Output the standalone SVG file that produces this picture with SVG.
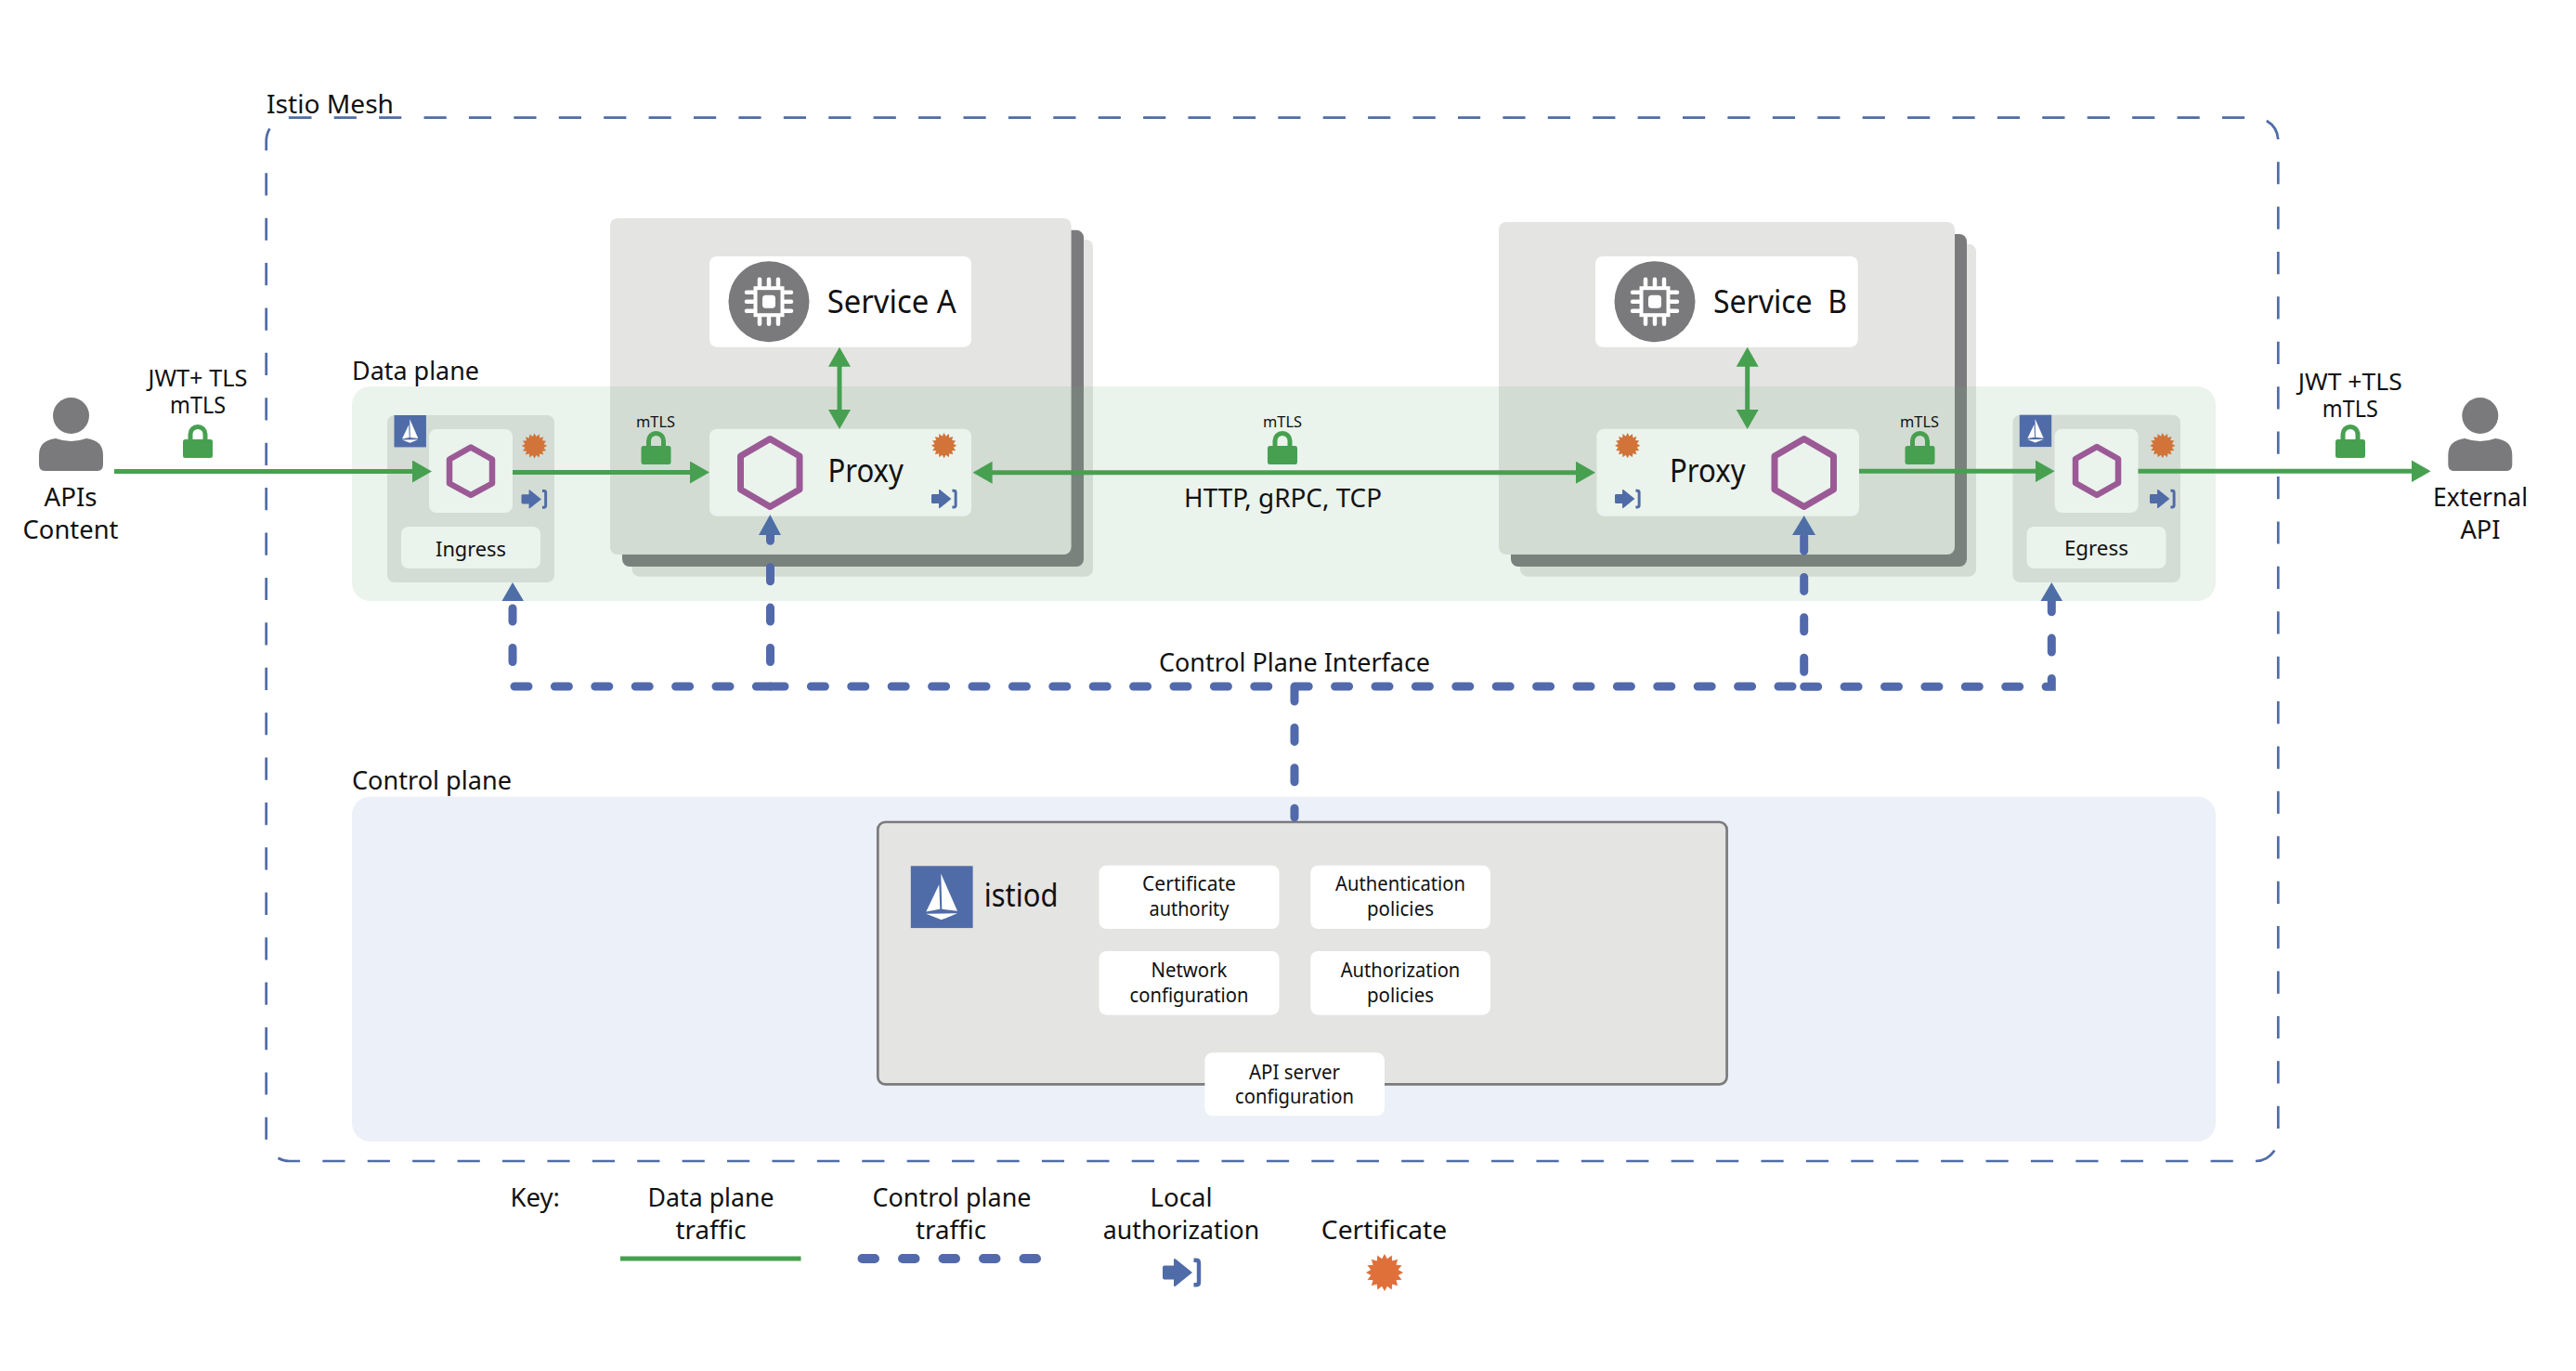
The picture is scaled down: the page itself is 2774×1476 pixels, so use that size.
<svg xmlns="http://www.w3.org/2000/svg" xmlns:xlink="http://www.w3.org/1999/xlink" width="2774" height="1476" viewBox="0 0 2774 1476">
<style>
text{font-family:"Noto Sans","Open Sans","DejaVu Sans",sans-serif;fill:#111;text-anchor:middle}
.s16{font-size:16px}.s22{font-size:22.5px}.s24{font-size:25px}.s27{font-size:28px}.s33{font-size:35px}
.l{text-anchor:start}
.card{fill:#e4e4e2}.shadow{fill:#7b7b7d}
.white{fill:#fff}.soft{fill:#eaf3ec}.gate{fill:#d3dcd5}
.hex{fill:none;stroke:#9b5a96;stroke-linejoin:round}
.g{fill:none;stroke:#47a050;stroke-width:5}
.b{fill:none;stroke:#526aab;stroke-width:9;stroke-linecap:round;stroke-dasharray:15 28.4}
.bh{fill:#4d6fa6}
</style>
<defs>
<marker id="gh" markerUnits="userSpaceOnUse" markerWidth="21" markerHeight="24" viewBox="0 0 21 24" refX="5" refY="12" orient="auto-start-reverse"><path d="M0,0L21,12L0,24Z" fill="#47a050"/></marker>
<polygon id="cert" points="20,0 14.7,2.9 18.5,7.65 12.5,8.3 14.14,14.14 8.3,12.5 7.65,18.5 2.9,14.7 0,20 -2.9,14.7 -7.65,18.5 -8.3,12.5 -14.14,14.14 -12.5,8.3 -18.5,7.65 -14.7,2.9 -20,0 -14.7,-2.9 -18.5,-7.65 -12.5,-8.3 -14.14,-14.14 -8.3,-12.5 -7.65,-18.5 -2.9,-14.7 0,-20 2.9,-14.7 7.65,-18.5 8.3,-12.5 14.14,-14.14 12.5,-8.3 18.5,-7.65 14.7,-2.9"/>
<g id="auth"><path d="M0,10Q0,8 2,8H12V2Q12,-0.5 14,1L32,15.5L14,30Q12,31.5 12,29V23H2Q0,23 0,21Z" fill="#4f6ca8"/><path d="M33.5,2.2H36Q39,2.2 39,5.2V25.8Q39,28.8 36,28.8H33.5" fill="none" stroke="#4f6ca8" stroke-width="4.4"/></g>
<g id="lock"><rect x="0" y="16" width="32" height="20" rx="2.5" fill="#47a050"/><path d="M8,18V10.5A8,8 0 0 1 24,10.5V18" fill="none" stroke="#47a050" stroke-width="5"/></g>
<g id="person" fill="#7a7a7c"><circle cx="34.5" cy="19.5" r="19.5"/><path d="M6,79Q0,79 0,72V62Q0,46 18,44Q34.5,50 51,44Q69,46 69,62V72Q69,79 63,79Z"/></g>
<g id="sail"><rect width="66.8" height="66.8" fill="#4f6ca8"/><path d="M32.5,8.3L50.2,48.5L33.5,46.5Z" fill="#fff"/><path d="M30.5,20L31.5,46.5L16.5,49.3Z" fill="#fff"/><path d="M16.5,51.5L50.2,51L33,58Z" fill="#fff"/></g>
<g id="chip"><circle r="43.5" fill="#7a7a7c"/><rect x="-14.5" y="-14.5" width="29" height="29" fill="none" stroke="#fff" stroke-width="4"/><rect x="-7" y="-7" width="14" height="14" rx="3.5" fill="#fff"/><path d="M-10,-24V-17M0,-24V-17M10,-24V-17M-10,17V24M0,17V24M10,17V24M-24,-10H-17M-24,0H-17M-24,10H-17M17,-10H24M17,0H24M17,10H24" fill="none" stroke="#fff" stroke-width="4.5" stroke-linecap="round"/></g>
</defs>
<rect width="2774" height="1476" fill="#fff"/>

<g id="istio-mesh">
<path d="M311.3,126.7H2428.3A25,25 0 0 1 2453.3,151.7V1225A25,25 0 0 1 2428.3,1250H311.7A25,25 0 0 1 286.7,1225V151.7A25,25 0 0 1 311.7,126.7" fill="none" stroke="#4f6ca8" stroke-width="2.7" stroke-dasharray="24.2 24.21"/>
<text class="s27 l" x="287" y="121.7" textLength="137" lengthAdjust="spacingAndGlyphs">Istio Mesh</text>
</g>

<g id="service-a">
<rect class="card" x="680.5" y="258" width="496.5" height="362.7" rx="8"/>
<rect class="shadow" x="670" y="247.7" width="497" height="362.3" rx="8"/>
<rect class="card" x="657" y="235" width="496.6" height="362" rx="8"/>
<rect class="white" x="764" y="276" width="282" height="97.7" rx="8"/>
<use xlink:href="#chip" href="#chip" x="828" y="324.7"/>
<text class="s33 l" x="890.7" y="336.7" textLength="139" lengthAdjust="spacingAndGlyphs">Service A</text>
</g>
<g id="service-b">
<rect class="card" x="1637" y="262.7" width="491" height="358" rx="8"/>
<rect class="shadow" x="1627" y="252" width="491" height="358" rx="8"/>
<rect class="card" x="1614" y="239" width="491" height="358" rx="8"/>
<rect class="white" x="1718" y="276" width="282.7" height="97.7" rx="8"/>
<use xlink:href="#chip" href="#chip" x="1782" y="324.7"/>
<text class="s33 l" x="1845" y="336.7" textLength="144" lengthAdjust="spacingAndGlyphs" xml:space="preserve">Service  B</text>
</g>

<g id="data-plane">
<rect x="379" y="416" width="2007" height="231" rx="20" fill="#73af80" fill-opacity=".15"/>
<text class="s27 l" x="379" y="409" textLength="137" lengthAdjust="spacingAndGlyphs">Data plane</text>
</g>

<g id="control-plane">
<rect x="379" y="857.5" width="2007" height="371.5" rx="20" fill="#ecf0f8"/>
<text class="s27 l" x="379" y="850" textLength="172" lengthAdjust="spacingAndGlyphs">Control plane</text>
</g>

<g id="apis-content">
<use xlink:href="#person" href="#person" x="42" y="428"/>
<text class="s27" x="76" y="545" textLength="57" lengthAdjust="spacingAndGlyphs">APIs</text>
<text class="s27" x="76" y="580" textLength="103" lengthAdjust="spacingAndGlyphs">Content</text>
</g>
<g id="jwt-in">
<text class="s24" x="213" y="416" textLength="107" lengthAdjust="spacingAndGlyphs">JWT+ TLS</text>
<text class="s24" x="213" y="445" textLength="60" lengthAdjust="spacingAndGlyphs">mTLS</text>
<use xlink:href="#lock" href="#lock" x="197" y="457"/>
</g>

<g id="ingress">
<rect class="gate" x="417" y="447" width="180" height="180" rx="8"/>
<use xlink:href="#sail" href="#sail" transform="translate(424.5,447) scale(.515)"/>
<rect class="soft" x="462" y="462" width="90" height="90" rx="8"/>
<polygon class="hex" stroke-width="6.5" points="507,481.5 530,494.5 530,520.5 507,533 484,520.5 484,494.5"/>
<use xlink:href="#cert" href="#cert" fill="#d27339" transform="translate(575.5,480) scale(.68)"/>
<use xlink:href="#auth" href="#auth" transform="translate(561.5,527) scale(.67)"/>
<rect class="soft" x="432" y="567" width="150" height="45" rx="8"/>
<text class="s22" x="507" y="599" textLength="76" lengthAdjust="spacingAndGlyphs">Ingress</text>
</g>

<g id="proxy-a">
<rect class="soft" x="764" y="461.7" width="282" height="94" rx="8"/>
<polygon class="hex" stroke-width="7" points="829.2,472.5 861,491 861,527 829.2,545.5 797.5,527 797.5,491"/>
<text class="s33 l" x="891.4" y="519" textLength="81.5" lengthAdjust="spacingAndGlyphs">Proxy</text>
<use xlink:href="#cert" href="#cert" fill="#d27339" transform="translate(1016.6,479.7) scale(.68)"/>
<use xlink:href="#auth" href="#auth" transform="translate(1003,526.7) scale(.67)"/>
</g>

<g id="proxy-b">
<rect class="soft" x="1719.4" y="461.7" width="282.6" height="94" rx="8"/>
<polygon class="hex" stroke-width="7" points="1942.7,472.5 1974.5,491 1974.5,527 1942.7,545.5 1911,527 1911,491"/>
<text class="s33 l" x="1798" y="519" textLength="81.5" lengthAdjust="spacingAndGlyphs">Proxy</text>
<use xlink:href="#cert" href="#cert" fill="#d27339" transform="translate(1752.7,479.7) scale(.68)"/>
<use xlink:href="#auth" href="#auth" transform="translate(1739,526.7) scale(.67)"/>
</g>

<g id="egress">
<rect class="gate" x="2167.5" y="446.7" width="180.5" height="180.3" rx="8"/>
<use xlink:href="#sail" href="#sail" transform="translate(2174.8,446.7) scale(.515)"/>
<rect class="soft" x="2212.6" y="461.7" width="90" height="90.3" rx="8"/>
<polygon class="hex" stroke-width="6.5" points="2258,481 2281,494 2281,520 2258,533 2235,520 2235,494"/>
<use xlink:href="#cert" href="#cert" fill="#d27339" transform="translate(2328.8,479.7) scale(.68)"/>
<use xlink:href="#auth" href="#auth" transform="translate(2315,526.7) scale(.67)"/>
<rect class="soft" x="2182.5" y="567" width="150" height="45" rx="8"/>
<text class="s22" x="2257.4" y="598" textLength="69" lengthAdjust="spacingAndGlyphs">Egress</text>
</g>

<g id="external-api">
<use xlink:href="#person" href="#person" x="2636.3" y="428"/>
<text class="s27" x="2671" y="545" textLength="102" lengthAdjust="spacingAndGlyphs">External</text>
<text class="s27" x="2671" y="580" textLength="43" lengthAdjust="spacingAndGlyphs">API</text>
</g>
<g id="jwt-out">
<text class="s24" x="2530.8" y="420" textLength="112" lengthAdjust="spacingAndGlyphs" xml:space="preserve">JWT +TLS</text>
<text class="s24" x="2530.8" y="449" textLength="60" lengthAdjust="spacingAndGlyphs">mTLS</text>
<use xlink:href="#lock" href="#lock" x="2515" y="457"/>
</g>

<g id="mtls-labels">
<text class="s16" x="706" y="460" textLength="42" lengthAdjust="spacingAndGlyphs">mTLS</text>
<use xlink:href="#lock" href="#lock" x="690.5" y="464"/>
<text class="s16" x="1381" y="460" textLength="42" lengthAdjust="spacingAndGlyphs">mTLS</text>
<use xlink:href="#lock" href="#lock" x="1365" y="464"/>
<text class="s16" x="2067" y="460" textLength="42" lengthAdjust="spacingAndGlyphs">mTLS</text>
<use xlink:href="#lock" href="#lock" x="2051.5" y="464"/>
<text class="s27" x="1381.5" y="546" textLength="213" lengthAdjust="spacingAndGlyphs" xml:space="preserve">HTTP, gRPC, TCP</text>
</g>

<g id="istiod">
<rect x="945.3" y="885" width="914.3" height="282.3" rx="8" fill="#e4e4e2" stroke="#7b7b7d" stroke-width="2.7"/>
<use xlink:href="#sail" href="#sail" x="980.8" y="932.3"/>
<text class="s33 l" x="1059.8" y="976" textLength="79.6" lengthAdjust="spacingAndGlyphs">istiod</text>
<rect class="white" x="1183.5" y="931.7" width="194" height="68.3" rx="8"/>
<text class="s22" x="1280.5" y="959.3" textLength="101" lengthAdjust="spacingAndGlyphs">Certificate</text>
<text class="s22" x="1280.5" y="985.7" textLength="86" lengthAdjust="spacingAndGlyphs">authority</text>
<rect class="white" x="1411.3" y="931.7" width="193.5" height="68.3" rx="8"/>
<text class="s22" x="1508" y="959.3" textLength="140" lengthAdjust="spacingAndGlyphs">Authentication</text>
<text class="s22" x="1508" y="985.7" textLength="72" lengthAdjust="spacingAndGlyphs">policies</text>
<rect class="white" x="1183.5" y="1024" width="194" height="68.7" rx="8"/>
<text class="s22" x="1280.5" y="1052.3" textLength="82" lengthAdjust="spacingAndGlyphs">Network</text>
<text class="s22" x="1280.5" y="1078.7" textLength="128" lengthAdjust="spacingAndGlyphs">configuration</text>
<rect class="white" x="1411.3" y="1024" width="193.5" height="68.7" rx="8"/>
<text class="s22" x="1508" y="1052.3" textLength="128.6" lengthAdjust="spacingAndGlyphs">Authorization</text>
<text class="s22" x="1508" y="1078.7" textLength="72" lengthAdjust="spacingAndGlyphs">policies</text>
<rect class="white" x="1297.4" y="1133.3" width="193.6" height="68" rx="8"/>
<text class="s22" x="1394" y="1161.7" textLength="98" lengthAdjust="spacingAndGlyphs">API server</text>
<text class="s22" x="1394" y="1187.7" textLength="128" lengthAdjust="spacingAndGlyphs">configuration</text>
</g>

<g id="connectors">
<path class="g" d="M123,507.5H449" marker-end="url(#gh)"/>
<path class="g" d="M552,508.5H748" marker-end="url(#gh)"/>
<path class="g" d="M1063.6,508.7H1702" marker-start="url(#gh)" marker-end="url(#gh)"/>
<path class="g" d="M904,389.7V446" marker-start="url(#gh)" marker-end="url(#gh)"/>
<path class="g" d="M1881.7,389.7V446" marker-start="url(#gh)" marker-end="url(#gh)"/>
<path class="g" d="M2002,507.3H2196.6" marker-end="url(#gh)"/>
<path class="g" d="M2302.5,507.3H2601.6" marker-end="url(#gh)"/>
<path class="b" d="M554,739H830"/>
<path class="b" d="M830,739H1942.7"/>
<path class="b" d="M1942.7,739.3H2209.3V643"/>
<path class="b" d="M552,712.5V655"/>
<path class="b" d="M829.5,712.5V567"/>
<path class="b" d="M1942.7,723.2V570"/>
<path class="b" d="M1394,740V880"/>
<polygon class="bh" points="552,627 564,647 540.5,647"/>
<polygon class="bh" points="829.3,554 841,576 817,576"/>
<polygon class="bh" points="1942.7,555 1955,576 1930,576"/>
<polygon class="bh" points="2209.3,627 2221,647 2197.5,647"/>
</g>

<g id="interface-label">
<text class="s27" x="1394" y="722.7" textLength="292" lengthAdjust="spacingAndGlyphs">Control Plane Interface</text>
</g>

<g id="key">
<text class="s27 l" x="549.5" y="1299.3" textLength="53.5" lengthAdjust="spacingAndGlyphs">Key:</text>
<text class="s27" x="765.6" y="1299.3" textLength="136" lengthAdjust="spacingAndGlyphs">Data plane</text>
<text class="s27" x="765.6" y="1334" textLength="76" lengthAdjust="spacingAndGlyphs">traffic</text>
<path class="g" d="M668,1355H862.5"/>
<text class="s27" x="1025" y="1299.3" textLength="171" lengthAdjust="spacingAndGlyphs">Control plane</text>
<text class="s27" x="1024" y="1334" textLength="76" lengthAdjust="spacingAndGlyphs">traffic</text>
<path d="M928.5,1355H1116" fill="none" stroke="#526aab" stroke-width="10" stroke-linecap="round" stroke-dasharray="13.5 30"/>
<text class="s27" x="1272" y="1299.3" textLength="67" lengthAdjust="spacingAndGlyphs">Local</text>
<text class="s27" x="1272" y="1334" textLength="168.4" lengthAdjust="spacingAndGlyphs">authorization</text>
<use xlink:href="#auth" href="#auth" x="1252" y="1354.5"/>
<text class="s27" x="1490.5" y="1334" textLength="135.4" lengthAdjust="spacingAndGlyphs">Certificate</text>
<use xlink:href="#cert" href="#cert" fill="#e0703a" x="1491" y="1370"/>
</g>
</svg>
